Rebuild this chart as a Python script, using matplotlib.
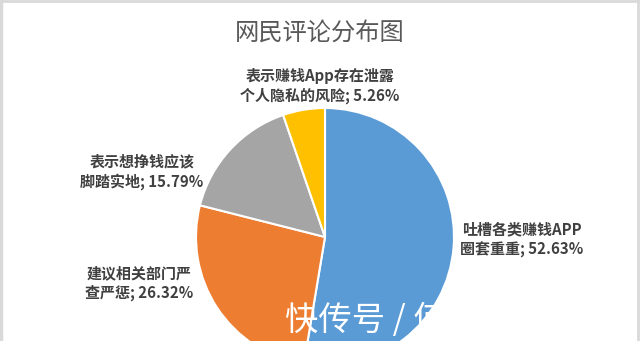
import matplotlib
matplotlib.use("Agg")
import matplotlib.pyplot as plt
from matplotlib.lines import Line2D

plt.rcParams['font.family'] = ['Noto Sans CJK SC', 'DejaVu Sans']

# Share of comments per opinion category (percent)
categories = ["吐槽各类赚钱APP\n圈套重重", "建议相关部门严\n查严惩", "表示想挣钱应该\n脚踏实地", "表示赚钱App存在泄露\n个人隐私的风险"]
shares = [52.63, 26.32, 15.79, 5.26]
colors = ["#5B9BD5", "#ED7D31", "#A5A5A5", "#FFC000"]
title = "网民评论分布图"

W, H = 640, 341
fig = plt.figure(figsize=(W / 100, H / 100), dpi=100)
ax = fig.add_axes([0, 0, 1, 1])

# pie laid out in pixel units, partly running off the lower edge
cx, cy, r = 325, H - 237, 129
wedges, _ = ax.pie(shares, colors=colors, startangle=90, counterclock=False,
                   center=(cx, cy), radius=r, frame=True,
                   wedgeprops=dict(edgecolor='white', linewidth=1.5))
ax.set_xlim(0, W)
ax.set_ylim(0, H)
ax.set_aspect('equal')
ax.axis('off')

# data labels
label_pos = [(522, H - 240), (139, H - 283), (142, H - 172), (320, H - 86)]
for cat, val, (lx, ly) in zip(categories, shares, label_pos):
    ax.text(lx, ly, f"{cat}; {val:.2f}%", ha='center', va='center',
            fontsize=10.8, fontweight='bold', color='#404040', linespacing=1.3)

ax.text(320, H - 33, title, ha='center', va='center', fontsize=17.5,
        fontweight='medium', color='#595959')

# watermark
ax.text(285, H - 320, "快传号 / 何", ha='left', va='center', fontsize=24,
        color='white', fontweight='light')

# thin frame around the chart area
fc = '#d9d9d9'
fig.add_artist(Line2D([0, 1], [1 - 1 / H, 1 - 1 / H], transform=fig.transFigure, color=fc, lw=2))
fig.add_artist(Line2D([1 / W, 1 / W], [0, 1], transform=fig.transFigure, color=fc, lw=2.5))
fig.add_artist(Line2D([638 / W, 638 / W], [0, 1], transform=fig.transFigure, color=fc, lw=2))

fig.savefig("out.png", dpi=100, facecolor='white')
